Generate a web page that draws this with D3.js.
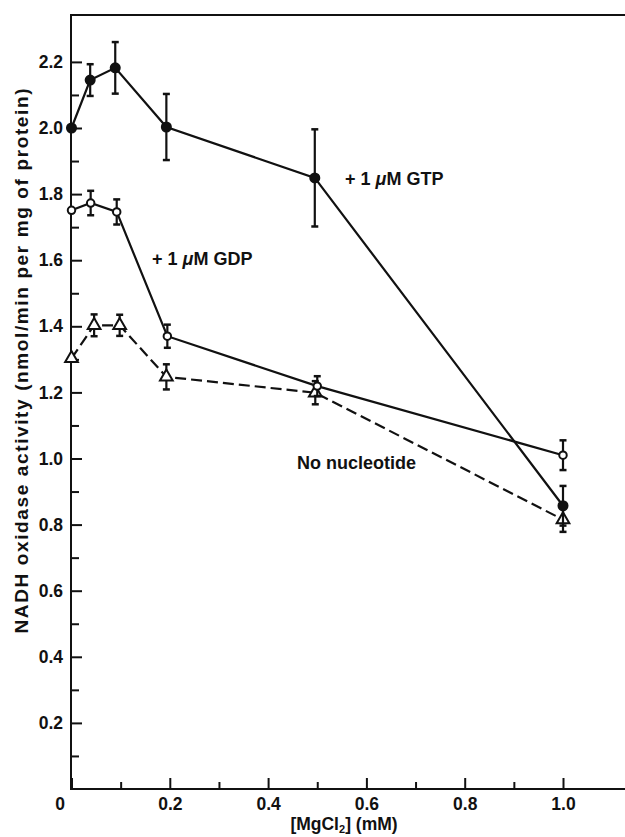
<!DOCTYPE html>
<html>
<head>
<meta charset="utf-8">
<script src="https://cdn.jsdelivr.net/npm/d3@7/dist/d3.min.js"></script>
<style>
    body { margin: 0; background: #fff; }
    svg text { font-family: "Liberation Sans", Arial, sans-serif; font-weight: bold; fill: #111; }
</style>
</head>
<body>
<svg id="chart" width="625" height="837"></svg>
<script>
/*
    Data
 */
var xGTP = [0, 0.038, 0.089, 0.193, 0.495, 1.0];
var yGTP = [2.0, 2.145, 2.182, 2.003, 1.849, 0.857];
var eGTP = [0, 0.048, 0.078, 0.1, 0.147, 0.06];

var xGDP = [0, 0.039, 0.092, 0.195, 0.5, 1.0];
var yGDP = [1.751, 1.773, 1.746, 1.370, 1.219, 1.010];
var eGDP = [0, 0.037, 0.038, 0.035, 0.03, 0.045];

var xNone = [0, 0.046, 0.098, 0.193, 0.496, 1.0];
var yNone = [1.303, 1.403, 1.403, 1.247, 1.199, 0.815];
var eNone = [0, 0.033, 0.032, 0.038, 0.035, 0.037];

var xMajor = [0, 0.2, 0.4, 0.6, 0.8, 1.0];
var xMinor = [0.1, 0.3, 0.5, 0.7, 0.9];
var yMajor = [0.2, 0.4, 0.6, 0.8, 1.0, 1.2, 1.4, 1.6, 1.8, 2.0, 2.2];
var yMinor = [0.1, 0.3, 0.5, 0.7, 0.9, 1.1, 1.3, 1.5, 1.7, 1.9, 2.1];

var width = 625;
var height = 837;
var frameTop = 15;

var svg = d3.select("#chart");

var x = d3.scaleLinear().domain([0, 1]).range([71.5, 563]);
var y = d3.scaleLinear().domain([0, 2.2]).range([789, 61.9]);

var x0 = 71, y0 = 789;

var zip = function (xs, ys, es) {
    return xs.map(function (d, i) { return {x: d, y: ys[i], e: es[i]}; });
};

/*
    Axes (ticks point inward)
 */
var fmt = function (d) { return d === 0 ? "0" : d3.format(".1f")(d); };

var gx = svg.append("g").attr("transform", "translate(0," + y0 + ")")
    .call(d3.axisBottom(x).tickValues(xMajor).tickSizeInner(-11).tickSizeOuter(0).tickPadding(9).tickFormat(fmt));
svg.append("g").attr("transform", "translate(0," + y0 + ")")
    .call(d3.axisBottom(x).tickValues(xMinor).tickSizeInner(-7).tickSizeOuter(0).tickFormat(""));

var gy = svg.append("g").attr("transform", "translate(" + x0 + ",0)")
    .call(d3.axisLeft(y).tickValues(yMajor).tickSizeInner(-11).tickSizeOuter(0).tickPadding(8).tickFormat(fmt));
svg.append("g").attr("transform", "translate(" + x0 + ",0)")
    .call(d3.axisLeft(y).tickValues(yMinor).tickSizeInner(-8).tickSizeOuter(0).tickFormat(""));

svg.selectAll(".domain").remove();
svg.selectAll(".tick line").attr("stroke", "#111").attr("stroke-width", 2);
svg.selectAll(".tick text").attr("font-size", 17.5).attr("font-family", null);

// the "0" label sits left of the axis
gx.selectAll(".tick text").filter(function (d) { return d === 0; }).attr("dx", -12);

// frame: left, top, bottom
svg.append("path")
    .attr("d", "M" + width + "," + frameTop + "H" + x0 + "V" + y0 + "H" + width)
    .attr("fill", "none")
    .attr("stroke", "#111")
    .attr("stroke-width", 2);

/*
    Series
 */
var line = d3.line()
    .x(function (d) { return x(d.x); })
    .y(function (d) { return y(d.y); });

var drawSeries = function (data, dash, marker) {

    var g = svg.append("g");

    g.append("path")
        .datum(data)
        .attr("d", line)
        .attr("fill", "none")
        .attr("stroke", "#111")
        .attr("stroke-width", 2.2)
        .attr("stroke-dasharray", dash);

    var bars = g.selectAll(".err")
        .data(data.filter(function (d) { return d.e > 0; }))
        .enter().append("g")
        .attr("class", "err");

    bars.append("line")
        .attr("x1", function (d) { return x(d.x); })
        .attr("x2", function (d) { return x(d.x); })
        .attr("y1", function (d) { return y(d.y + d.e); })
        .attr("y2", function (d) { return y(d.y - d.e); })
        .attr("stroke", "#111")
        .attr("stroke-width", 2.2);

    [1, -1].forEach(function (s) {
        bars.append("line")
            .attr("x1", function (d) { return x(d.x) - 3.5; })
            .attr("x2", function (d) { return x(d.x) + 3.5; })
            .attr("y1", function (d) { return y(d.y + s * d.e); })
            .attr("y2", function (d) { return y(d.y + s * d.e); })
            .attr("stroke", "#111")
            .attr("stroke-width", 2.5);
    });

    var pts = g.selectAll(".pt")
        .data(data)
        .enter().append("path")
        .attr("class", "pt")
        .attr("transform", function (d) { return "translate(" + x(d.x) + "," + y(d.y) + ")"; })
        .attr("stroke", "#111")
        .attr("stroke-width", 2);

    if (marker === "filled") {
        pts.attr("d", d3.symbol(d3.symbolCircle, 64)).attr("fill", "#111");
    } else if (marker === "open") {
        pts.attr("d", d3.symbol(d3.symbolCircle, 44)).attr("fill", "#fff");
    } else {
        pts.attr("d", d3.symbol(d3.symbolTriangle, 70)).attr("fill", "#fff");
    }
};

drawSeries(zip(xNone, yNone, eNone), "11,5", "triangle");
drawSeries(zip(xGDP, yGDP, eGDP), null, "open");
drawSeries(zip(xGTP, yGTP, eGTP), null, "filled");

/*
    Labels
 */
var label = function (tx, ty, parts) {
    var t = svg.append("text").attr("x", tx).attr("y", ty).attr("font-size", 18);
    parts.forEach(function (p) {
        var s = t.append("tspan").text(p.text);
        if (p.italic) s.attr("font-style", "italic");
    });
    return t;
};

label(345, 185, [{text: "+ 1 "}, {text: "\u03bc", italic: true}, {text: "M GTP"}]);
label(152, 265, [{text: "+ 1 "}, {text: "\u03bc", italic: true}, {text: "M GDP"}]);
label(297, 469, [{text: "No nucleotide"}]);

var xt = svg.append("text")
    .attr("x", 344)
    .attr("y", 830)
    .attr("text-anchor", "middle")
    .attr("font-size", 17.5);
xt.append("tspan").text("[MgCl");
xt.append("tspan").text("2").attr("font-size", 11).attr("dy", 3);
xt.append("tspan").text("] (mM)").attr("dy", -3);

svg.append("text")
    .attr("transform", "translate(28,361) rotate(-90)")
    .attr("text-anchor", "middle")
    .attr("font-size", 19)
    .attr("textLength", 545)
    .attr("lengthAdjust", "spacing")
    .text("NADH oxidase activity (nmol/min per mg of protein)");
</script>
</body>
</html>
